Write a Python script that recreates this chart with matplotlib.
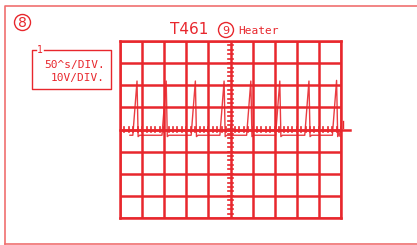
import matplotlib
matplotlib.use('Agg')
import matplotlib.pyplot as plt
from matplotlib.patches import Circle
import numpy as np

# Screen setup (divisions)
n_xdiv = 10
n_ydiv = 8

# Labels
title = 'T461'
circle_main = '8'
circle_title = '9'
subtitle = 'Heater'
channel = '1'
time_scale = '50^s/DIV.'
volt_scale = '10V/DIV.'

# Trace (x and y in divisions)
trace_x = [-4.55, -4.42, -4.23, -4.18, -4.11,
           -3.10, -2.91, -2.86, -2.79,
           -1.78, -1.59, -1.54, -1.47,
           -0.48, -0.29, -0.24, -0.17,
           0.73, 0.92, 0.97, 1.04,
           2.04, 2.23, 2.28, 2.35,
           3.36, 3.55, 3.60, 3.67,
           4.61, 4.80, 4.85, 4.90, 4.95]
trace_y = [-0.26, -0.26, 2.19, -0.32, -0.26,
           -0.26, 2.19, -0.32, -0.26,
           -0.26, 2.19, -0.32, -0.26,
           -0.26, 2.19, -0.32, -0.26,
           -0.26, 2.19, -0.32, -0.26,
           -0.26, 2.19, -0.32, -0.26,
           -0.26, 2.19, -0.32, -0.26,
           -0.26, 2.22, -0.32, -0.05, -0.30]

RED = '#e8272d'
PINK = '#f07070'
W, H = 417, 245

fig = plt.figure(figsize=(W / 100, H / 100), dpi=100)

# overlay in pixel coords for frames and text
bg = fig.add_axes([0, 0, 1, 1])
bg.set_xlim(0, W)
bg.set_ylim(H, 0)
bg.axis('off')

# outer frame
bg.plot([5, 5, W + 2], [244, 6, 6], color=PINK, lw=1.2)
bg.plot([5, W + 2], [244, 244], color=PINK, lw=1.2)

# circled 8
bg.add_patch(Circle((22.5, 22.5), 8, fill=False, ec=RED, lw=1.0))
bg.text(22.5, 23, circle_main, color=RED, fontsize=10, ha='center', va='center')

# scale box
bg.plot([44, 111, 111, 32, 32, 36], [50, 50, 89, 89, 50, 50], color=RED, lw=1.0)
bg.text(40, 50, channel, color=RED, fontsize=7, ha='center', va='center',
        family='DejaVu Sans Mono')
bg.text(105, 65, time_scale, color=RED, fontsize=8, ha='right', va='center',
        family='DejaVu Sans Mono')
bg.text(105, 77.5, volt_scale, color=RED, fontsize=8, ha='right', va='center',
        family='DejaVu Sans Mono')

# title row
bg.text(189.5, 30, title, color=RED, fontsize=11, ha='center', va='center')
bg.add_patch(Circle((226, 30), 7.5, fill=False, ec=RED, lw=1.0))
bg.text(226, 30.5, circle_title, color=RED, fontsize=8, ha='center', va='center')
bg.text(238, 30.5, subtitle, color=RED, fontsize=8, ha='left', va='center',
        family='DejaVu Sans Mono')

# graticule
ax = fig.add_axes([120 / W, (H - 218) / H, 221 / W, 177 / H])
ax.set_xlim(-n_xdiv / 2, n_xdiv / 2)
ax.set_ylim(-n_ydiv / 2, n_ydiv / 2)
ax.set_xticks(np.arange(-n_xdiv / 2, n_xdiv / 2 + 1))
ax.set_yticks(np.arange(-n_ydiv / 2, n_ydiv / 2 + 1))
ax.tick_params(length=0, labelbottom=False, labelleft=False)
ax.grid(True, color=RED, lw=1.8)
for s in ax.spines.values():
    s.set_color(RED)
    s.set_linewidth(1.8)
ax.set_facecolor('none')

# center axes with small tick marks
ax.plot([-5, 5.4], [0, 0], color=RED, lw=1.8, clip_on=False)
for xt in np.arange(-5, 5.01, 0.2):
    ax.plot([xt, xt], [-0.11, 0.11], color=RED, lw=1.2)
for yt in np.arange(-4, 4.01, 0.2):
    ax.plot([-0.11, 0.11], [yt, yt], color=RED, lw=1.2)

# ground marker at right
ax.plot([5.08, 5.08], [0.09, 0.37], color=RED, lw=1.0, clip_on=False)

# trace
ax.plot(trace_x, trace_y, color=RED, lw=1.0, alpha=0.9, clip_on=False)

fig.savefig('out.png', dpi=100)
